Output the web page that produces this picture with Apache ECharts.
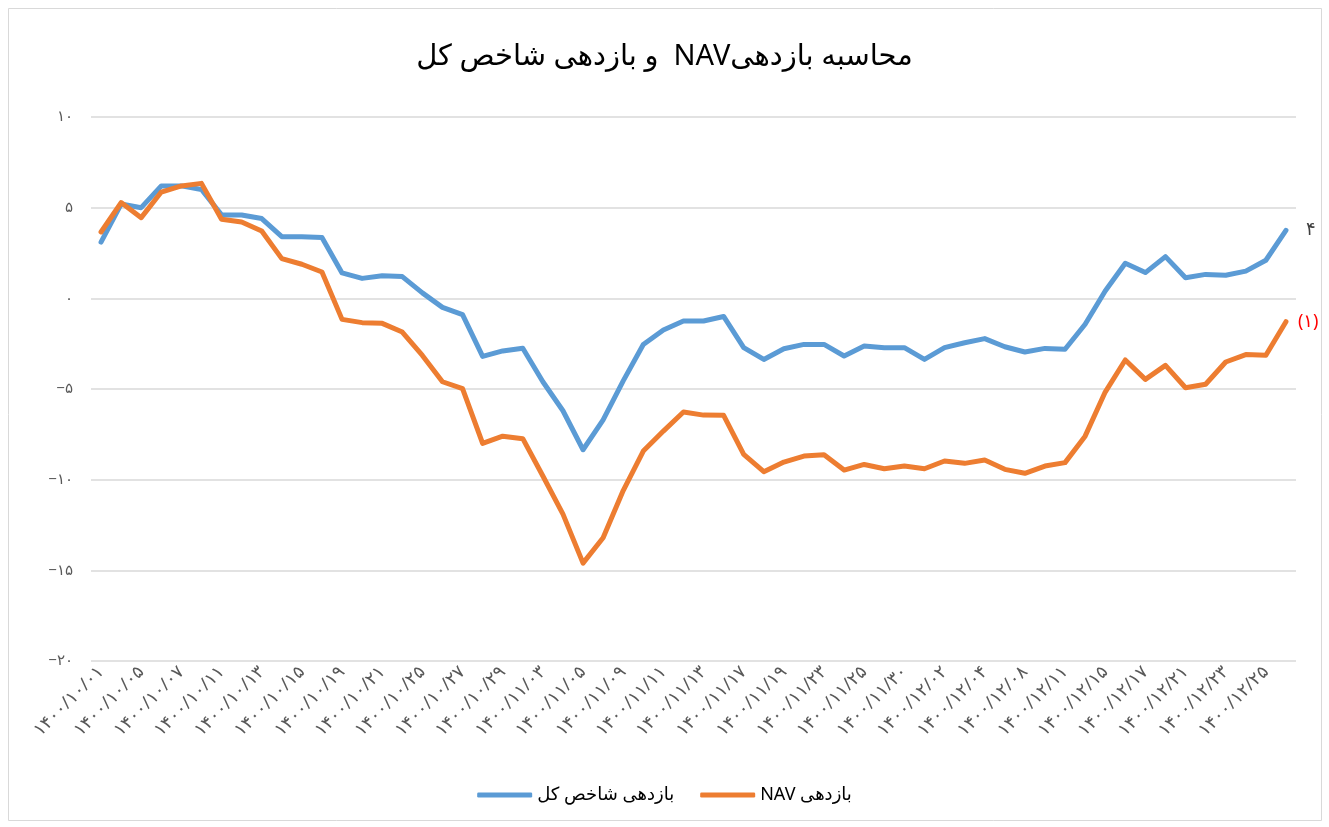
<!DOCTYPE html>
<html>
<head>
<meta charset="utf-8">
<script src="https://cdn.jsdelivr.net/npm/echarts@6/dist/echarts.min.js"></script>
<style>
html,body{margin:0;padding:0;background:#fff;}
#chart{width:1329px;height:827px;}
</style>
</head>
<body>
<div id="chart"></div>
<script>
const titleText = 'محاسبه بازدهیNAV  و بازدهی شاخص کل';
const seriesNames = ['بازدهی شاخص کل', 'بازدهی NAV'];
const categories = ['۱۴۰۰/۱۰/۰۱','۱۴۰۰/۱۰/۰۴','۱۴۰۰/۱۰/۰۵','۱۴۰۰/۱۰/۰۶','۱۴۰۰/۱۰/۰۷','۱۴۰۰/۱۰/۰۸','۱۴۰۰/۱۰/۱۱','۱۴۰۰/۱۰/۱۲','۱۴۰۰/۱۰/۱۳','۱۴۰۰/۱۰/۱۴','۱۴۰۰/۱۰/۱۵','۱۴۰۰/۱۰/۱۸','۱۴۰۰/۱۰/۱۹','۱۴۰۰/۱۰/۲۰','۱۴۰۰/۱۰/۲۱','۱۴۰۰/۱۰/۲۲','۱۴۰۰/۱۰/۲۵','۱۴۰۰/۱۰/۲۶','۱۴۰۰/۱۰/۲۷','۱۴۰۰/۱۰/۲۸','۱۴۰۰/۱۰/۲۹','۱۴۰۰/۱۱/۰۲','۱۴۰۰/۱۱/۰۳','۱۴۰۰/۱۱/۰۴','۱۴۰۰/۱۱/۰۵','۱۴۰۰/۱۱/۰۶','۱۴۰۰/۱۱/۰۹','۱۴۰۰/۱۱/۱۰','۱۴۰۰/۱۱/۱۱','۱۴۰۰/۱۱/۱۲','۱۴۰۰/۱۱/۱۳','۱۴۰۰/۱۱/۱۶','۱۴۰۰/۱۱/۱۷','۱۴۰۰/۱۱/۱۸','۱۴۰۰/۱۱/۱۹','۱۴۰۰/۱۱/۲۰','۱۴۰۰/۱۱/۲۳','۱۴۰۰/۱۱/۲۴','۱۴۰۰/۱۱/۲۵','۱۴۰۰/۱۱/۲۷','۱۴۰۰/۱۱/۳۰','۱۴۰۰/۱۲/۰۱','۱۴۰۰/۱۲/۰۲','۱۴۰۰/۱۲/۰۳','۱۴۰۰/۱۲/۰۴','۱۴۰۰/۱۲/۰۷','۱۴۰۰/۱۲/۰۸','۱۴۰۰/۱۲/۱۰','۱۴۰۰/۱۲/۱۱','۱۴۰۰/۱۲/۱۴','۱۴۰۰/۱۲/۱۵','۱۴۰۰/۱۲/۱۶','۱۴۰۰/۱۲/۱۷','۱۴۰۰/۱۲/۱۸','۱۴۰۰/۱۲/۲۱','۱۴۰۰/۱۲/۲۲','۱۴۰۰/۱۲/۲۳','۱۴۰۰/۱۲/۲۴','۱۴۰۰/۱۲/۲۵','۱۴۰۰/۱۲/۲۸'];
const indexReturn = [3.1, 5.2, 5.0, 6.2, 6.2, 6.0, 4.6, 4.6, 4.4, 3.4, 3.4, 3.35, 1.4, 1.1, 1.25, 1.2,
  0.3, -0.5, -0.9, -3.2, -2.9, -2.75, -4.6, -6.2, -8.35, -6.7, -4.55, -2.55, -1.75, -1.25, -1.25, -1.0,
  -2.72, -3.37, -2.78, -2.54, -2.54, -3.18, -2.63, -2.72, -2.72, -3.37, -2.72, -2.45, -2.22, -2.67, -2.96, -2.76,
  -2.81, -1.43, 0.4, 1.93, 1.42, 2.3, 1.14, 1.32, 1.27, 1.5, 2.1, 3.75];
const navReturn = [3.66, 5.28, 4.45, 5.86, 6.2, 6.34, 4.36, 4.21, 3.71, 2.19, 1.88, 1.45, -1.16, -1.34, -1.38, -1.86,
  -3.15, -4.6, -4.98, -8.0, -7.6, -7.74, -9.8, -11.9, -14.6, -13.2, -10.6, -8.42, -7.32, -6.27, -6.44, -6.45,
  -8.6, -9.56, -9.03, -8.7, -8.62, -9.47, -9.16, -9.4, -9.25, -9.4, -8.97, -9.1, -8.92, -9.43, -9.65, -9.25,
  -9.06, -7.6, -5.17, -3.4, -4.47, -3.7, -4.93, -4.74, -3.51, -3.1, -3.14, -1.29];
const yTickValues = [-20, -15, -10, -5, 0, 5, 10];
const yTickLabels = ['−۲۰', '−۱۵', '−۱۰', '−۵', '۰', '۵', '۱۰'];

const RLE = '\u202B', PDF = '\u202C';
const faDigits = '۰۱۲۳۴۵۶۷۸۹';
function toFa(n) { return String(n).replace(/[0-9]/g, d => faDigits[+d]); }
function endFmt(p) {
  const v = Math.round(p.value);
  return v < 0 ? '(' + toFa(-v) + ')' : toFa(v);
}
const FONT = 'Noto Sans, DejaVu Sans, sans-serif';

const chart = echarts.init(document.getElementById('chart'), null, {renderer: 'canvas'});
chart.setOption({
  backgroundColor: '#ffffff',
  animation: false,
  graphic: [{
    type: 'rect', shape: {x: 8.5, y: 8.5, width: 1313, height: 812},
    style: {fill: 'none', stroke: '#d9d9d9', lineWidth: 1}, silent: true
  }],
  title: {
    text: RLE + titleText + PDF,
    left: 'center', top: 37,
    textStyle: {fontFamily: FONT, fontSize: 29, fontWeight: 'normal', color: '#000000'}
  },
  legend: {
    bottom: 18, left: 'center',
    icon: 'roundRect', itemWidth: 55, itemHeight: 5, itemGap: 26,
    formatter: name => RLE + name + PDF,
    textStyle: {fontFamily: FONT, fontSize: 18, color: '#000000'}
  },
  grid: {left: 91, right: 33, top: 117, bottom: 166, containLabel: false},
  xAxis: {
    type: 'category', data: categories, boundaryGap: true,
    axisLine: {show: false}, axisTick: {show: false},
    axisLabel: {interval: 1, rotate: 45, margin: 8, fontFamily: FONT, fontSize: 18, color: '#595959'},
    splitLine: {show: false}
  },
  yAxis: {
    type: 'value', min: -20, max: 10, interval: 5,
    axisLine: {show: false}, axisTick: {show: false},
    axisLabel: {
      margin: 18, fontFamily: FONT, fontSize: 15, color: '#595959',
      formatter: v => yTickLabels[yTickValues.indexOf(v)]
    },
    splitLine: {lineStyle: {color: '#d9d9d9', width: 1.5}}
  },
  series: [{
    name: seriesNames[0], type: 'line', data: indexReturn,
    showSymbol: false, symbol: 'none',
    lineStyle: {color: '#5B9BD5', width: 5, cap: 'round', join: 'round'},
    itemStyle: {color: '#5B9BD5'},
    endLabel: {show: true, formatter: endFmt, distance: 20, color: '#404040', fontFamily: FONT, fontSize: 18}
  }, {
    name: seriesNames[1], type: 'line', data: navReturn,
    showSymbol: false, symbol: 'none',
    lineStyle: {color: '#ED7D31', width: 5, cap: 'round', join: 'round'},
    itemStyle: {color: '#ED7D31'},
    endLabel: {show: true, formatter: endFmt, distance: 12, color: '#FF0000', fontFamily: FONT, fontSize: 18}
  }]
});
</script>
</body>
</html>
